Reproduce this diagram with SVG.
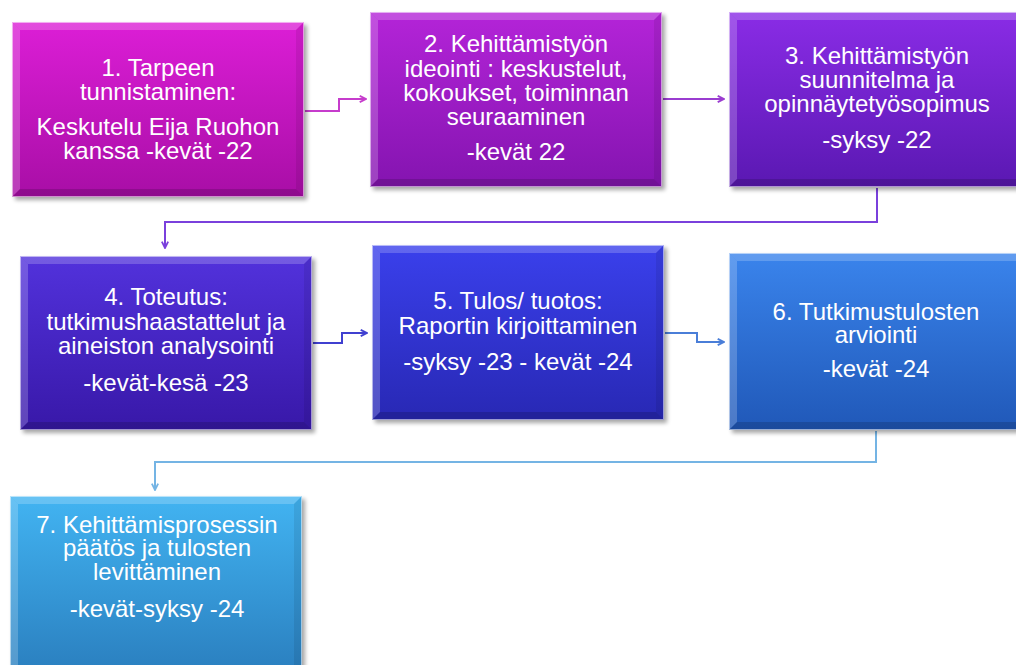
<svg xmlns="http://www.w3.org/2000/svg" width="1016" height="665" viewBox="0 0 1016 665">
<defs>
<linearGradient id="g1" x1="0" y1="0" x2="0" y2="1"><stop offset="0" stop-color="#dc1ed6"/><stop offset="1" stop-color="#a80ea6"/></linearGradient>
<linearGradient id="g2" x1="0" y1="0" x2="0" y2="1"><stop offset="0" stop-color="#b424d8"/><stop offset="1" stop-color="#8414b0"/></linearGradient>
<linearGradient id="g3" x1="0" y1="0" x2="0" y2="1"><stop offset="0" stop-color="#8a2ce6"/><stop offset="1" stop-color="#5a18b2"/></linearGradient>
<linearGradient id="g4" x1="0" y1="0" x2="0" y2="1"><stop offset="0" stop-color="#5232dc"/><stop offset="1" stop-color="#3818a8"/></linearGradient>
<linearGradient id="g5" x1="0" y1="0" x2="0" y2="1"><stop offset="0" stop-color="#3a40ec"/><stop offset="1" stop-color="#2828b4"/></linearGradient>
<linearGradient id="g6" x1="0" y1="0" x2="0" y2="1"><stop offset="0" stop-color="#3a84ec"/><stop offset="1" stop-color="#2058b8"/></linearGradient>
<linearGradient id="g7" x1="0" y1="0" x2="0" y2="1"><stop offset="0" stop-color="#42b4f2"/><stop offset="1" stop-color="#2a7ebe"/></linearGradient>
<filter id="sh" x="-5%" y="-5%" width="115%" height="115%"><feGaussianBlur stdDeviation="2"/></filter>
<marker id="ah" viewBox="0 0 10 10" refX="9" refY="5" markerWidth="9" markerHeight="9" orient="auto" markerUnits="userSpaceOnUse"><path d="M2,1.5 L9,5 L2,8.5" fill="none" stroke="context-stroke" stroke-width="2"/></marker>
</defs>
<style>
.t{font-family:"Liberation Sans",Arial,sans-serif;font-size:24px;fill:#ffffff;text-anchor:middle}
.shadow{fill:#000;opacity:0.35;filter:url(#sh)}
.hl{fill:#ffffff;opacity:0.2}
.dk{fill:#000000;opacity:0.15}
.dr{fill:#000000;opacity:0.08}
.edge{fill:none;stroke:#ffffff;stroke-opacity:0.55;stroke-width:1}
.c{fill:none;stroke-width:2}
</style>
<rect width="1016" height="665" fill="#ffffff"/>

<g id="connectors">
<path class="c" stroke="#c63ccc" d="M305,111 H339 V99 H366" marker-end="url(#ah)"/>
<path class="c" stroke="#9a3cd0" d="M663,99 H724" marker-end="url(#ah)"/>
<path class="c" stroke="#7a40dc" d="M877,188 V222 H165 V248" marker-end="url(#ah)"/>
<path class="c" stroke="#4040d0" d="M313,343 H342 V333 H367" marker-end="url(#ah)"/>
<path class="c" stroke="#4a7ed8" d="M665,333 H697 V342 H724" marker-end="url(#ah)"/>
<path class="c" stroke="#74b4e4" d="M876,431 V462 H155 V490" marker-end="url(#ah)"/>
</g>

<g id="node1">
<rect class="shadow" x="15" y="25" width="292" height="175"/>
<rect x="12" y="22" width="292" height="175" fill="url(#g1)"/>
<polygon class="hl" points="12,22 304,22 296,30 20,30"/>
<polygon class="hl" points="12,22 20,30 20,189 12,197"/>
<polygon class="dr" points="304,22 304,197 296,189 296,30"/>
<polygon class="dk" points="12,197 304,197 296,189 20,189"/>
<rect class="edge" x="12.5" y="22.5" width="291" height="174"/>
<text class="t" x="158" y="76">1. Tarpeen</text>
<text class="t" x="158" y="100">tunnistaminen:</text>
<text class="t" x="158" y="135">Keskutelu Eija Ruohon</text>
<text class="t" x="158" y="159">kanssa -kevät -22</text>
</g>

<g id="node2">
<rect class="shadow" x="373" y="15" width="292" height="175"/>
<rect x="370" y="12" width="292" height="175" fill="url(#g2)"/>
<polygon class="hl" points="370,12 662,12 654,20 378,20"/>
<polygon class="hl" points="370,12 378,20 378,179 370,187"/>
<polygon class="dr" points="662,12 662,187 654,179 654,20"/>
<polygon class="dk" points="370,187 662,187 654,179 378,179"/>
<rect class="edge" x="370.5" y="12.5" width="291" height="174"/>
<text class="t" x="516" y="52">2. Kehittämistyön</text>
<text class="t" x="516" y="77">ideointi : keskustelut,</text>
<text class="t" x="516" y="101">kokoukset, toiminnan</text>
<text class="t" x="516" y="125">seuraaminen</text>
<text class="t" x="516" y="160">-kevät 22</text>
</g>

<g id="node3">
<rect class="shadow" x="732" y="15" width="296" height="175"/>
<rect x="729" y="12" width="296" height="175" fill="url(#g3)"/>
<polygon class="hl" points="729,12 1025,12 1017,20 737,20"/>
<polygon class="hl" points="729,12 737,20 737,179 729,187"/>
<polygon class="dk" points="729,187 1025,187 1017,179 737,179"/>
<rect class="edge" x="729.5" y="12.5" width="295" height="174"/>
<text class="t" x="877" y="64">3. Kehittämistyön</text>
<text class="t" x="877" y="88">suunnitelma ja</text>
<text class="t" x="877" y="112">opinnäytetyösopimus</text>
<text class="t" x="877" y="148">-syksy -22</text>
</g>

<g id="node4">
<rect class="shadow" x="23" y="259" width="292" height="174"/>
<rect x="20" y="256" width="292" height="174" fill="url(#g4)"/>
<polygon class="hl" points="20,256 312,256 304,264 28,264"/>
<polygon class="hl" points="20,256 28,264 28,422 20,430"/>
<polygon class="dr" points="312,256 312,430 304,422 304,264"/>
<polygon class="dk" points="20,430 312,430 304,422 28,422"/>
<rect class="edge" x="20.5" y="256.5" width="291" height="173"/>
<text class="t" x="166" y="305">4. Toteutus:</text>
<text class="t" x="166" y="330">tutkimushaastattelut ja</text>
<text class="t" x="166" y="354">aineiston analysointi</text>
<text class="t" x="166" y="391">-kevät-kesä -23</text>
</g>

<g id="node5">
<rect class="shadow" x="375" y="248" width="292" height="175"/>
<rect x="372" y="245" width="292" height="175" fill="url(#g5)"/>
<polygon class="hl" points="372,245 664,245 656,253 380,253"/>
<polygon class="hl" points="372,245 380,253 380,412 372,420"/>
<polygon class="dr" points="664,245 664,420 656,412 656,253"/>
<polygon class="dk" points="372,420 664,420 656,412 380,412"/>
<rect class="edge" x="372.5" y="245.5" width="291" height="174"/>
<text class="t" x="518" y="309">5. Tulos/ tuotos:</text>
<text class="t" x="518" y="334">Raportin kirjoittaminen</text>
<text class="t" x="518" y="370">-syksy -23 - kevät -24</text>
</g>

<g id="node6">
<rect class="shadow" x="732" y="256" width="296" height="177"/>
<rect x="729" y="253" width="296" height="177" fill="url(#g6)"/>
<polygon class="hl" points="729,253 1025,253 1017,261 737,261"/>
<polygon class="hl" points="729,253 737,261 737,422 729,430"/>
<polygon class="dk" points="729,430 1025,430 1017,422 737,422"/>
<rect class="edge" x="729.5" y="253.5" width="295" height="176"/>
<text class="t" x="876" y="320">6. Tutkimustulosten</text>
<text class="t" x="876" y="343">arviointi</text>
<text class="t" x="876" y="377">-kevät -24</text>
</g>

<g id="node7">
<rect class="shadow" x="13" y="499" width="292" height="180"/>
<rect x="10" y="496" width="292" height="180" fill="url(#g7)"/>
<polygon class="hl" points="10,496 302,496 294,504 18,504"/>
<polygon class="hl" points="10,496 18,504 18,676 10,676"/>
<polygon class="dr" points="302,496 302,676 294,676 294,504"/>
<rect class="edge" x="10.5" y="496.5" width="291" height="179"/>
<text class="t" x="157" y="533">7. Kehittämisprosessin</text>
<text class="t" x="157" y="556">päätös ja tulosten</text>
<text class="t" x="157" y="580">levittäminen</text>
<text class="t" x="157" y="617">-kevät-syksy -24</text>
</g>
</svg>
